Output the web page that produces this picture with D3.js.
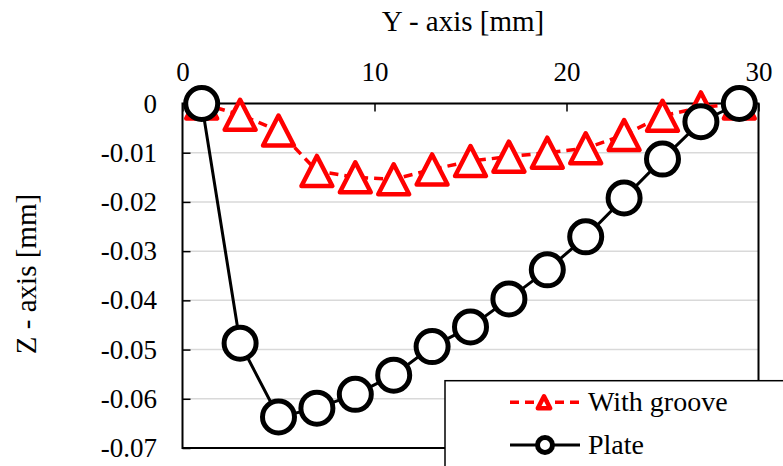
<!DOCTYPE html>
<html>
<head>
<meta charset="utf-8">
<script src="https://cdn.jsdelivr.net/npm/d3@7"></script>
</head>
<body style="margin:0">
<svg id="chart" width="783" height="466" font-family="Liberation Serif">
  <style>
    #chart text { font-family: "Liberation Serif", "Times New Roman", serif !important; }
  </style>
</svg>
<script>
// Position along the plate (Y) and measured deflection (Z)
const yPositions = [1, 3, 5, 7, 9, 11, 13, 15, 17, 19, 21, 23, 25, 27, 29];
const withGroove = [0, -0.0023, -0.0055, -0.0137, -0.0150, -0.0154, -0.0134, -0.0117,
                    -0.0108, -0.0100, -0.0091, -0.0064, -0.0025, -0.0008, 0];
const plate = [0, -0.0487, -0.0637, -0.0619, -0.0591, -0.0552, -0.0494, -0.0454,
               -0.0397, -0.0338, -0.0271, -0.0192, -0.0113, -0.0037, 0];
const xTicks = [0, 10, 20, 30];
const zTicks = [0, -0.01, -0.02, -0.03, -0.04, -0.05, -0.06, -0.07];
const seriesNames = ["With groove", "Plate"];

const serifFace = "Liberation Serif";

const svg = d3.select("#chart");
svg.insert("rect", ":first-child").attr("width", 783).attr("height", 466).attr("fill", "#fff");

const plotLeft = 182.5, plotRight = 758.5, plotTop = 103.5, plotBottom = 448;

const x = d3.scaleLinear().domain([0, 30]).range([plotLeft, plotRight]);
const y = d3.scaleLinear().domain([0, -0.07]).range([plotTop, plotBottom]);

// horizontal gridlines
svg.append("g").selectAll("line").data(zTicks).join("line")
  .attr("x1", plotLeft).attr("x2", plotRight)
  .attr("y1", d => y(d)).attr("y2", d => y(d))
  .attr("stroke", "#d9d9d9").attr("stroke-width", 1.5);

// frame
svg.append("rect")
  .attr("x", plotLeft).attr("y", plotTop)
  .attr("width", plotRight - plotLeft).attr("height", plotBottom - plotTop)
  .attr("fill", "none").attr("stroke", "#000").attr("stroke-width", 2);

// top axis (Y position)
const gx = svg.append("g").attr("transform", `translate(0,${plotTop})`)
  .call(d3.axisTop(x).tickValues(xTicks).tickSize(-8).tickPadding(22.5).tickFormat(d3.format("d")));
gx.attr("font-family", serifFace).attr("font-size", 27);
gx.select(".domain").remove();
gx.selectAll("line").attr("stroke", "#000").attr("stroke-width", 1.5);
gx.selectAll("text").attr("font-family", serifFace).attr("font-size", 27).attr("fill", "#000");

// left axis (Z deflection)
const gy = svg.append("g").attr("transform", `translate(${plotLeft},0)`)
  .call(d3.axisLeft(y).tickValues(zTicks).tickSize(-8).tickPadding(25.5)
    .tickFormat(d => d === 0 ? "0" : d.toFixed(2)));
gy.attr("font-family", serifFace).attr("font-size", 27);
gy.select(".domain").remove();
gy.selectAll("line").attr("stroke", "#000").attr("stroke-width", 1.5);
gy.selectAll("text").attr("font-family", serifFace).attr("font-size", 27).attr("fill", "#000");

// axis titles
svg.append("text").attr("x", 463).attr("y", 31).attr("text-anchor", "middle")
  .attr("font-family", serifFace).attr("font-size", 29).text("Y - axis [mm]");
svg.append("text").attr("transform", "translate(36,274) rotate(-90)")
  .attr("text-anchor", "middle")
  .attr("font-family", serifFace).attr("font-size", 29).text("Z - axis [mm]");

const triPath = s => `M0,${-s}L${s * 1.03},${s}L${-s * 1.03},${s}Z`;

const line = d3.line().x(d => x(d[0])).y(d => y(d[1]));
const groovePts = yPositions.map((p, i) => [p, withGroove[i]]);
const platePts = yPositions.map((p, i) => [p, plate[i]]);

// With groove: red dashed line with open triangles
svg.append("path").datum(groovePts).attr("d", line)
  .attr("fill", "none").attr("stroke", "#ff0000").attr("stroke-width", 3.5)
  .attr("stroke-dasharray", "9,6");
svg.append("g").selectAll("path").data(groovePts).join("path")
  .attr("transform", d => `translate(${x(d[0])},${y(d[1])})`)
  .attr("d", triPath(15))
  .attr("fill", "#fff").attr("stroke", "#ff0000").attr("stroke-width", 4.5)
  .attr("stroke-linejoin", "round");

// Plate: black solid line with open circles
svg.append("path").datum(platePts).attr("d", line)
  .attr("fill", "none").attr("stroke", "#000").attr("stroke-width", 3);
svg.append("g").selectAll("circle").data(platePts).join("circle")
  .attr("cx", d => x(d[0])).attr("cy", d => y(d[1])).attr("r", 16)
  .attr("fill", "#fff").attr("stroke", "#000").attr("stroke-width", 5);

// legend
const lg = svg.append("g");
lg.append("rect").attr("x", 445).attr("y", 380.7).attr("width", 400).attr("height", 120)
  .attr("fill", "#fff").attr("stroke", "#000").attr("stroke-width", 1.5);

const rows = [402.3, 445];
lg.append("line").attr("x1", 510).attr("x2", 580).attr("y1", rows[0]).attr("y2", rows[0])
  .attr("stroke", "#ff0000").attr("stroke-width", 3.5).attr("stroke-dasharray", "9,6");
lg.append("path").attr("transform", `translate(544,${rows[0]})`).attr("d", triPath(6))
  .attr("fill", "#fff").attr("stroke", "#ff0000").attr("stroke-width", 4.5)
  .attr("stroke-linejoin", "round");
lg.append("line").attr("x1", 510).attr("x2", 580).attr("y1", rows[1]).attr("y2", rows[1])
  .attr("stroke", "#000").attr("stroke-width", 3);
lg.append("circle").attr("cx", 545).attr("cy", rows[1]).attr("r", 7.5)
  .attr("fill", "#fff").attr("stroke", "#000").attr("stroke-width", 5);

lg.selectAll("text.lab").data(seriesNames).join("text").attr("class", "lab")
  .attr("x", 588).attr("y", (d, i) => rows[i] + 8.5)
  .attr("font-family", serifFace).attr("font-size", 28).text(d => d);
</script>
</body>
</html>
